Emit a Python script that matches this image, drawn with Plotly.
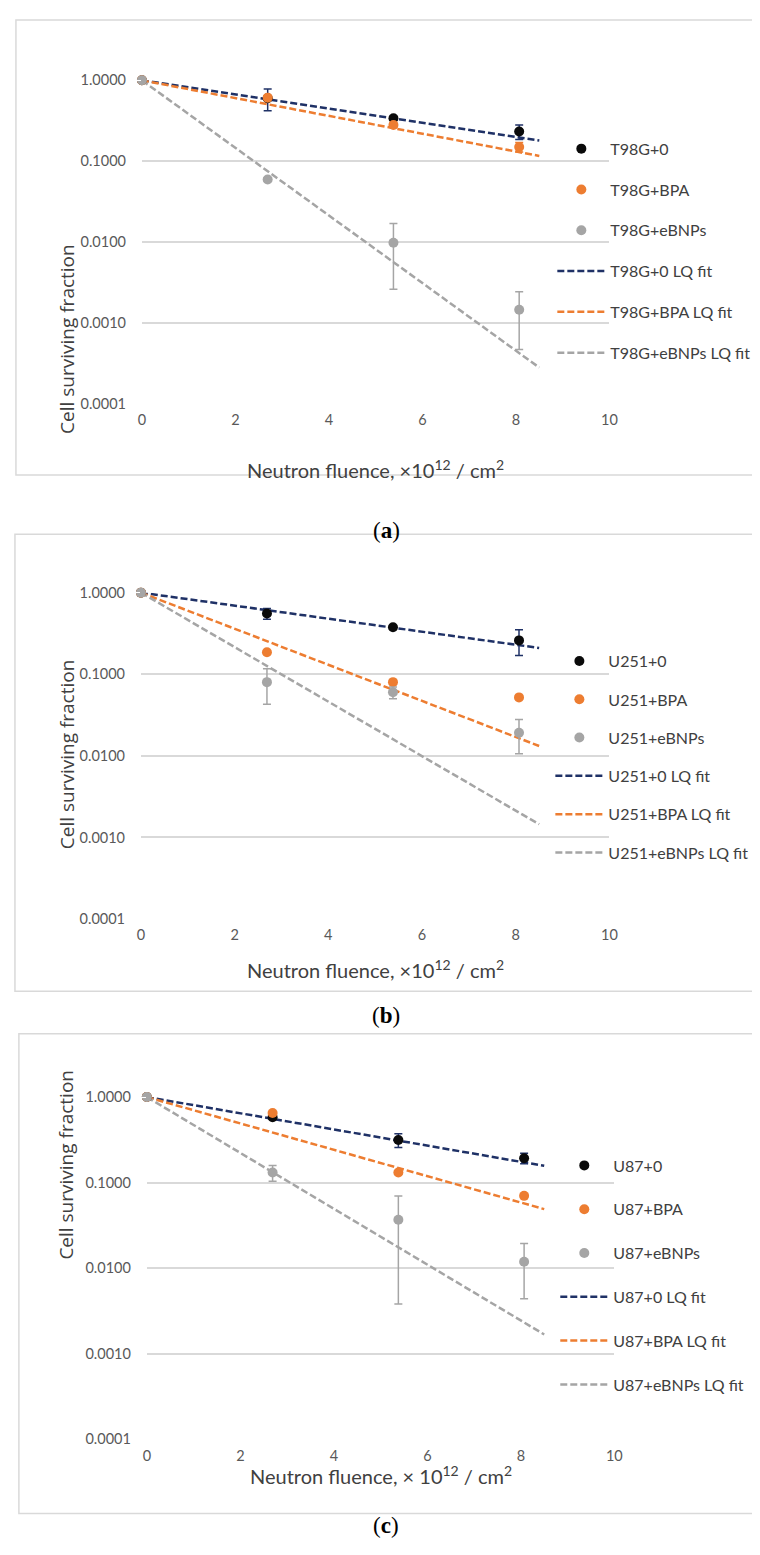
import plotly.graph_objects as go

W, H = 760, 1555

# x positions of the measurements (neutron fluence, x10^12 / cm^2)
fluence = [0, 2.69, 5.38, 8.07]
fit_x = [0, 8.5]

# panel (a) T98G
t98g_0 = [1.0, 0.60, 0.34, 0.233]
t98g_0_err = [0, 0.18, 0.02, 0.048]
t98g_bpa = [1.0, 0.61, 0.28, 0.15]
t98g_bpa_err = [0, 0.03, 0.02, 0.02]
t98g_ebnps = [1.0, 0.0594, 0.0098, 0.00145]
t98g_ebnps_err = [0, 0.003, 0.0072, 0.00098]
t98g_0_fit = [1.0, 0.18]
t98g_bpa_fit = [1.0, 0.116]
t98g_ebnps_fit = [1.0, 0.00028]

# panel (b) U251
u251_0 = [1.0, 0.556, 0.377, 0.26]
u251_0_err = [0, 0.085, 0.02, 0.09]
u251_bpa = [1.0, 0.186, 0.080, 0.052]
u251_bpa_err = [0, 0, 0, 0]
u251_ebnps = [1.0, 0.080, 0.060, 0.0192]
u251_ebnps_err = [0, 0.037, 0.01, 0.0086]
u251_0_fit = [1.0, 0.21]
u251_bpa_fit = [1.0, 0.0132]
u251_ebnps_fit = [1.0, 0.00145]

# panel (c) U87
u87_0 = [1.0, 0.58, 0.315, 0.193]
u87_0_err = [0, 0.03, 0.058, 0.027]
u87_bpa = [1.0, 0.65, 0.131, 0.070]
u87_bpa_err = [0, 0, 0, 0]
u87_ebnps = [1.0, 0.131, 0.0368, 0.0119]
u87_ebnps_err = [0, 0.027, 0.033, 0.0075]
u87_0_fit = [1.0, 0.157]
u87_bpa_fit = [1.0, 0.049]
u87_ebnps_fit = [1.0, 0.00168]

y_ticks = [0.0001, 0.001, 0.01, 0.1, 1.0]
y_tick_text = ['0.0001', '0.0010', '0.0100', '0.1000', '1.0000']
x_ticks = [0, 2, 4, 6, 8, 10]

NAVY = '#1f3166'
BLACK = '#0a0a0a'
ORANGE = '#ed7d31'
GREY = '#a5a5a5'
GRID = '#d9d9d9'
TXT = '#595959'
FONT = 'Lato, Carlito, Liberation Sans'


def px(x):
    return x / W


def py(y):
    return 1 - y / H


panels = [
    dict(cell='T98G', pts=(t98g_0, t98g_bpa, t98g_ebnps),
         errs=(t98g_0_err, t98g_bpa_err, t98g_ebnps_err),
         fits=(t98g_0_fit, t98g_bpa_fit, t98g_ebnps_fit),
         xl=132, xr=607, yt=64, yb=391, leg_x=549, leg_top=116, gap=17,
         box=(4, 3, 758, 463), cap=505, label='a', ytitle_y=227,
         xtitle='Neutron fluence, ×10<sup>12</sup> / cm<sup>2</sup>'),
    dict(cell='U251', pts=(u251_0, u251_bpa, u251_ebnps),
         errs=(u251_0_err, u251_bpa_err, u251_ebnps_err),
         fits=(u251_0_fit, u251_bpa_fit, u251_ebnps_fit),
         xl=131, xr=607, yt=582, yb=912, leg_x=547, leg_top=634, gap=14.5,
         box=(3, 523, 758, 985), cap=1010, label='b', ytitle_y=745,
         xtitle='Neutron fluence, ×10<sup>12</sup> / cm<sup>2</sup>'),
    dict(cell='U87', pts=(u87_0, u87_bpa, u87_ebnps),
         errs=(u87_0_err, u87_bpa_err, u87_ebnps_err),
         fits=(u87_0_fit, u87_bpa_fit, u87_ebnps_fit),
         xl=137, xr=612, yt=1092, yb=1438, leg_x=552, leg_top=1144, gap=20,
         box=(7, 1028, 756, 1513), cap=1540, label='c', ytitle_y=1258,
         xtitle='Neutron fluence, × 10<sup>12</sup> / cm<sup>2</sup>'),
]

fig = go.Figure()
layout = dict(width=W, height=H, margin=dict(l=0, r=0, t=0, b=0),
              paper_bgcolor='white', plot_bgcolor='white',
              font=dict(family=FONT, color=TXT, size=14),
              showlegend=True, shapes=[], annotations=[])

for i, p in enumerate(panels):
    n = '' if i == 0 else str(i + 1)
    xa, ya = 'x' + n, 'y' + n
    leg = 'legend' + n
    cell = p['cell']

    # fit lines first so the markers sit on top
    for k, (fit, col, suffix) in enumerate(zip(p['fits'], [NAVY, ORANGE, GREY], ['+0', '+BPA', '+eBNPs'])):
        fig.add_trace(go.Scatter(
            x=fit_x, y=fit, mode='lines', name=f'{cell}{suffix} LQ fit',
            line=dict(color=col, width=2.5, dash='7px,3px'),
            xaxis=xa, yaxis=ya, legend=leg, legendgroup=f'{cell}f{k}',
            legendrank=10 + k, cliponaxis=False))

    for k, (vals, err, col, ecol, suffix) in enumerate(zip(
            p['pts'], p['errs'], [BLACK, ORANGE, GREY], [NAVY, ORANGE, GREY], ['+0', '+BPA', '+eBNPs'])):
        fig.add_trace(go.Scatter(
            x=fluence, y=vals, mode='markers', name=f'{cell}{suffix}',
            marker=dict(color=col, size=10),
            error_y=dict(type='data', array=err, visible=True, color=ecol, thickness=1.5, width=4),
            xaxis=xa, yaxis=ya, legend=leg, legendgroup=f'{cell}m{k}',
            legendrank=k, cliponaxis=False))

    layout['xaxis' + n] = dict(
        domain=[px(p['xl']), px(p['xr'])], anchor=ya, range=[0, 10],
        tickvals=x_ticks, showgrid=False, zeroline=False, showline=False,
        ticks='outside', ticklen=3, tickcolor='white',
        tickfont=dict(family=FONT, size=14.5, color=TXT))
    layout['yaxis' + n] = dict(
        domain=[py(p['yb']), py(p['yt'])], anchor=xa, type='log', range=[-4, 0],
        tickvals=y_ticks, ticktext=y_tick_text, showgrid=True, gridcolor=GRID,
        gridwidth=1.5, zeroline=False, showline=False,
        ticks='outside', ticklen=12, tickcolor='white',
        tickfont=dict(family=FONT, size=14.5, color=TXT))
    layout[leg] = dict(
        x=px(p['leg_x']), y=py(p['leg_top']), xanchor='left', yanchor='top',
        bgcolor='rgba(0,0,0,0)', tracegroupgap=p['gap'], itemwidth=48,
        font=dict(family=FONT, size=16, color='#404040'), traceorder='grouped')

    x0, y0, x1, y1 = p['box']
    layout['shapes'].append(dict(
        type='rect', xref='paper', yref='paper', x0=px(x0), x1=px(x1), y0=py(y0), y1=py(y1),
        line=dict(color=GRID, width=1.5), layer='below'))
    layout['annotations'].append(dict(
        text='Cell surviving fraction', textangle=-90, x=px(40), y=py(p['ytitle_y']),
        xref='paper', yref='paper', showarrow=False,
        font=dict(family='Open Sans', size=19, color='#404040')))
    layout['annotations'].append(dict(
        text=p['xtitle'], x=px((p['xl'] + p['xr']) / 2), y=py(p['yb'] + 51),
        xref='paper', yref='paper', showarrow=False,
        font=dict(family=FONT, size=20, color='#404040')))
    layout['annotations'].append(dict(
        text=f"(<b>{p['label']}</b>)", x=px(380), y=py(p['cap']),
        xref='paper', yref='paper', showarrow=False,
        font=dict(family='Liberation Serif', size=23, color='black')))

fig.update_layout(**layout)
fig.write_html("out.html")
